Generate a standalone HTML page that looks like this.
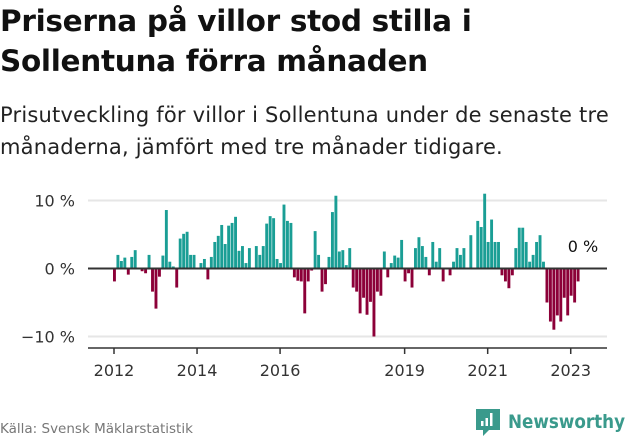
<!DOCTYPE html>
<html><head><meta charset="utf-8"><style>
body{margin:0;width:631px;height:439px;background:#fff;font-family:"Liberation Sans","DejaVu Sans",sans-serif;overflow:hidden;position:relative}
.t{position:absolute;left:0;top:1px;font-size:29.5px;font-weight:bold;line-height:40px;color:#111;font-family:"DejaVu Sans",sans-serif;letter-spacing:-0.3px;white-space:nowrap}
.s{position:absolute;left:0;top:99px;font-size:21px;line-height:32px;color:#222;font-family:"DejaVu Sans",sans-serif;white-space:nowrap;letter-spacing:0.2px}
.f{position:absolute;left:0;top:421px;font-size:13.5px;color:#777;font-family:"DejaVu Sans",sans-serif}
</style></head><body>
<div class="t">Priserna på villor stod stilla i<br>Sollentuna förra månaden</div>
<div class="s">Prisutveckling för villor i Sollentuna under de senaste tre<br>månaderna, jämfört med tre månader tidigare.</div>
<svg id="c" width="631" height="439" style="position:absolute;left:0;top:0"></svg>
<div class="f">Källa: Svensk Mäklarstatistik</div>
<div style="position:absolute;left:474px;top:406px">
<svg width="157" height="30"><path d="M2 3h24v21h-11l-6 6v-6H2z" fill="#3a9a8c"/><rect x="7" y="15" width="2.5" height="5" fill="#fff"/><rect x="11.5" y="12" width="2.5" height="8" fill="#fff"/><rect x="16" y="7" width="2.5" height="13" fill="#fff"/><text x="34" y="22" font-size="19" font-weight="bold" fill="#3a9a8c" font-family="DejaVu Sans,sans-serif" textLength="117" lengthAdjust="spacingAndGlyphs">Newsworthy</text></svg></div>
<script>
const values=[-1.9,2.0,1.1,1.6,-0.9,1.7,2.7,0,-0.4,-0.7,2.0,-3.4,-5.9,-1.2,1.9,8.6,1.0,0.3,-2.8,4.4,5.1,5.4,2.0,2.0,0,0.8,1.4,-1.6,1.7,3.9,4.8,6.4,3.6,6.3,6.7,7.6,2.6,3.3,0.8,3.0,0,3.3,2.0,3.3,
6.6,7.7,7.4,1.4,0.8,9.4,7.0,6.7,-1.3,-1.8,-1.9,-6.6,-1.9,-0.3,5.5,2.0,-3.4,-2.3,1.7,8.3,10.7,2.5,2.7,0.5,3.0,-2.8,-3.4,-6.6,-4.3,-6.8,-4.9,-10.0,-3.4,-4.0,2.5,-1.3,0.8,1.9,1.6,4.2,-1.9,-0.7,-2.8,3.0,4.6,3.3,1.7,-1.0,3.9,1.0,
3.0,-1.9,0,-1.0,1.0,3.0,2.0,3.0,0,4.9,0,7.0,6.1,11.0,3.9,7.2,3.9,3.9,-1.0,-1.9,-2.9,-1.0,3.0,6.0,6.0,3.9,1.0,2.0,3.9,4.9,1.0,-5.0,-7.8,-9.0,-6.9,-7.8,-4.3,-6.9,-4.0,-5.0,-1.9,0];
const yTicks=[10,0,-10];
const yLabels=["10 %","0 %","\u221210 %"];
const xYears=[2012,2014,2016,2019,2021,2023];
const startYear=2012;
const svg=document.getElementById('c');const NS='http://www.w3.org/2000/svg';
function y(v){return 268.5-v*6.8;}
function x(i){return 113+i*3.46;}
function xy(yr){return 114+(yr-startYear)*12*3.46;}
function mk(t,a){const e=document.createElementNS(NS,t);for(const k in a)e.setAttribute(k,a[k]);svg.appendChild(e);return e;}
yTicks.forEach((v,k)=>{
 if(v!==0){const g=mk('line',{x1:88,x2:607,y1:y(v),y2:y(v),stroke:'#e6e6e6','stroke-width':2});
 
 }
 const t=mk('text',{x:75,y:y(v)+6,'text-anchor':'end','font-size':16,fill:'#333','font-family':'DejaVu Sans,sans-serif'});t.textContent=yLabels[k];
 
 
});
values.forEach((v,i)=>{
 const r=mk('rect',{x:x(i),width:2.9,y:v>=0?y(v):y(0),height:Math.abs(v)*6.8,fill:v>=0?'#1a9e95':'#8c0038'});
 
 
});
const z=mk('line',{x1:88,x2:607,y1:y(0),y2:y(0),stroke:'#333','stroke-width':2});


const ax=mk('line',{x1:88,x2:607,y1:348,y2:348,stroke:'#333','stroke-width':1.5});


xYears.forEach(yr=>{
 const tk=mk('line',{x1:xy(yr),x2:xy(yr),y1:348,y2:354,stroke:'#333','stroke-width':1.5});
 
 
 const t=mk('text',{x:xy(yr),y:376,'text-anchor':'middle','font-size':16,fill:'#333','font-family':'DejaVu Sans,sans-serif'});t.textContent=yr;
 
 
});
const lab=mk('text',{x:583,y:252,'text-anchor':'middle','font-size':16,fill:'#111','font-family':'DejaVu Sans,sans-serif'});
lab.textContent=values[values.length-1]+' %';


</script>
</body></html>
